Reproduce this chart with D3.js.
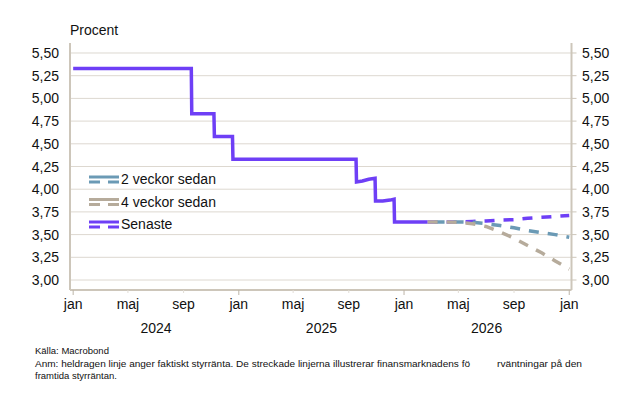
<!DOCTYPE html>
<html>
<head>
<meta charset="utf-8">
<script src="https://cdn.jsdelivr.net/npm/d3@7"></script>
<style>
  body { margin: 0; background: #fff; }
  svg { font-family: "Liberation Sans", Arial, Helvetica, sans-serif; }
</style>
</head>
<body>
<svg id="chart" width="633" height="404"></svg>
<script>
// faktisk styrränta (dagliga brytpunkter)
const actualDates = ["2024-01-01", "2024-09-18", "2024-09-19", "2024-11-07", "2024-11-08",
  "2024-12-18", "2024-12-19", "2025-09-17", "2025-09-18", "2025-10-01", "2025-10-15",
  "2025-10-29", "2025-10-30", "2025-11-15", "2025-12-01", "2025-12-10", "2025-12-11", "2026-02-22"]
const actualValues = [5.33, 5.33, 4.83, 4.83, 4.58, 4.58, 4.33, 4.33, 4.08, 4.09, 4.11,
  4.12, 3.87, 3.87, 3.88, 3.89, 3.64, 3.64]

// marknadens förväntningar
const fwdDates = ["2026-02-22", "2026-03-01", "2026-04-01", "2026-05-01", "2026-06-01", "2026-07-01",
  "2026-08-01", "2026-09-01", "2026-10-01", "2026-11-01", "2026-12-01", "2027-01-01"]
const senaste = [3.64, 3.64, 3.64, 3.64, 3.645, 3.65, 3.66, 3.665, 3.68, 3.69, 3.70, 3.71]
const veckor2 = [3.64, 3.64, 3.64, 3.64, 3.635, 3.62, 3.60, 3.575, 3.545, 3.52, 3.50, 3.47]
const veckor4 = [3.64, 3.64, 3.64, 3.635, 3.62, 3.59, 3.53, 3.46, 3.38, 3.30, 3.21, 3.12]

const yTicks = [3.00, 3.25, 3.50, 3.75, 4.00, 4.25, 4.50, 4.75, 5.00, 5.25, 5.50]
const monthNames = ["jan", "feb", "mar", "apr", "maj", "jun", "jul", "aug", "sep", "okt", "nov", "dec"]
const years = [2024, 2025, 2026]

const legendItems = [
  {name: "2 veckor sedan", color: "#6b9ab5"},
  {name: "4 veckor sedan", color: "#b6ab9b"},
  {name: "Senaste", color: "#6e3ff6"}
]

const parse = d3.timeParse("%Y-%m-%d")
const svg = d3.select("#chart")
const pLeft = 70, pRight = 571.5, pTop = 43, pBottom = 290

const x = d3.scaleTime()
  .domain([parse("2023-12-25"), parse("2027-01-06")])
  .range([pLeft, pRight])
const y = d3.scaleLinear()
  .domain([2.89, 5.61])
  .range([pBottom, pTop])

const gridColor = "#ddd8d0", axisColor = "#cdc6ba", textColor = "#111"

// rutnät
svg.append("g").selectAll("line")
  .data(yTicks)
  .join("line")
  .attr("x1", pLeft).attr("x2", pRight)
  .attr("y1", d => y(d)).attr("y2", d => y(d))
  .attr("stroke", gridColor).attr("stroke-width", 1)

// axlar
svg.append("line").attr("x1", pLeft).attr("x2", pLeft).attr("y1", pTop).attr("y2", pBottom)
  .attr("stroke", axisColor).attr("stroke-width", 2)
svg.append("line").attr("x1", pRight).attr("x2", pRight).attr("y1", pTop).attr("y2", pBottom)
  .attr("stroke", axisColor).attr("stroke-width", 2)
svg.append("line").attr("x1", pLeft).attr("x2", pRight).attr("y1", pBottom).attr("y2", pBottom)
  .attr("stroke", axisColor).attr("stroke-width", 2)

const fmt = d => d3.format(".2f")(d).replace(".", ",")

// vänster y-axel
svg.append("g").selectAll("text")
  .data(yTicks)
  .join("text")
  .attr("x", 59).attr("y", d => y(d) + 5)
  .attr("text-anchor", "end")
  .attr("font-size", 14).attr("fill", textColor)
  .text(fmt)

// höger y-axel
svg.append("g").selectAll("line")
  .data(yTicks)
  .join("line")
  .attr("x1", pRight).attr("x2", pRight + 5)
  .attr("y1", d => y(d)).attr("y2", d => y(d))
  .attr("stroke", axisColor).attr("stroke-width", 1)
svg.append("g").selectAll("text")
  .data(yTicks)
  .join("text")
  .attr("x", 582).attr("y", d => y(d) + 5)
  .attr("font-size", 14).attr("fill", textColor)
  .text(fmt)

// x-axel
const months = d3.timeMonth.every(4).range(parse("2024-01-01"), parse("2027-01-02"))
svg.append("g").selectAll("line")
  .data(months)
  .join("line")
  .attr("x1", d => x(d)).attr("x2", d => x(d))
  .attr("y1", pBottom).attr("y2", d => d.getMonth() === 0 ? pBottom + 5 : pBottom + 3)
  .attr("stroke", d => d.getMonth() === 0 ? "#bdb5a8" : "#e2ddd6")
  .attr("stroke-width", 1)
svg.append("g").selectAll("text")
  .data(months)
  .join("text")
  .attr("x", d => x(d)).attr("y", 309)
  .attr("text-anchor", "middle")
  .attr("font-size", 14).attr("fill", textColor)
  .text(d => monthNames[d.getMonth()])
svg.append("g").selectAll("text")
  .data(years)
  .join("text")
  .attr("x", d => (x(new Date(d, 0, 1)) + x(new Date(d + 1, 0, 1))) / 2)
  .attr("y", 333)
  .attr("text-anchor", "middle")
  .attr("font-size", 14).attr("fill", textColor)
  .text(d => d)

svg.append("text").attr("x", 70).attr("y", 35)
  .attr("font-size", 14).attr("fill", textColor).text("Procent")

// linjer
const line = d3.line().x(d => x(d[0])).y(d => y(d[1]))
const series = (dates, vals) => dates.map((d, i) => [parse(d), vals[i]])

svg.append("path")
  .attr("d", line(series(actualDates, actualValues)))
  .attr("fill", "none")
  .attr("stroke", "#6e3ff6")
  .attr("stroke-width", 3.5)

const dashed = [[senaste, "#6e3ff6", 0], [veckor2, "#6b9ab5", 12], [veckor4, "#b6ab9b", 0]]
svg.append("g").selectAll("path")
  .data(dashed)
  .join("path")
  .attr("d", d => line(series(fwdDates, d[0])))
  .attr("fill", "none")
  .attr("stroke", d => d[1])
  .attr("stroke-width", 3.5)
  .attr("stroke-dasharray", "10,9")
  .attr("stroke-dashoffset", d => d[2])

// teckenförklaring
const lg = svg.append("g").selectAll("g")
  .data(legendItems)
  .join("g")
  .attr("transform", (d, i) => `translate(89, ${177 + i * 22.5})`)
lg.append("line").attr("x1", 0).attr("x2", 30).attr("y1", 0).attr("y2", 0)
  .attr("stroke", d => d.color).attr("stroke-width", 3)
lg.append("line").attr("x1", 0).attr("x2", 30).attr("y1", 5).attr("y2", 5)
  .attr("stroke", d => d.color).attr("stroke-width", 3)
  .attr("stroke-dasharray", "11,8")
lg.append("text").attr("x", 32).attr("y", 7)
  .attr("font-size", 14).attr("fill", textColor)
  .text(d => d.name)

// källa och anmärkning
const note = svg.append("g").attr("font-size", 9.5).attr("fill", "#111")
note.append("text").attr("x", 35).attr("y", 354).text("Källa: Macrobond")
note.append("text").attr("x", 35).attr("y", 366.5)
  .attr("textLength", 435).attr("lengthAdjust", "spacingAndGlyphs")
  .text("Anm: heldragen linje anger faktiskt styrränta. De streckade linjerna illustrerar finansmarknadens fö")
note.append("text").attr("x", 497).attr("y", 366.5)
  .attr("textLength", 85).attr("lengthAdjust", "spacingAndGlyphs")
  .text("rväntningar på den")
note.append("text").attr("x", 35).attr("y", 379).text("framtida styrräntan.")
</script>
</body>
</html>
